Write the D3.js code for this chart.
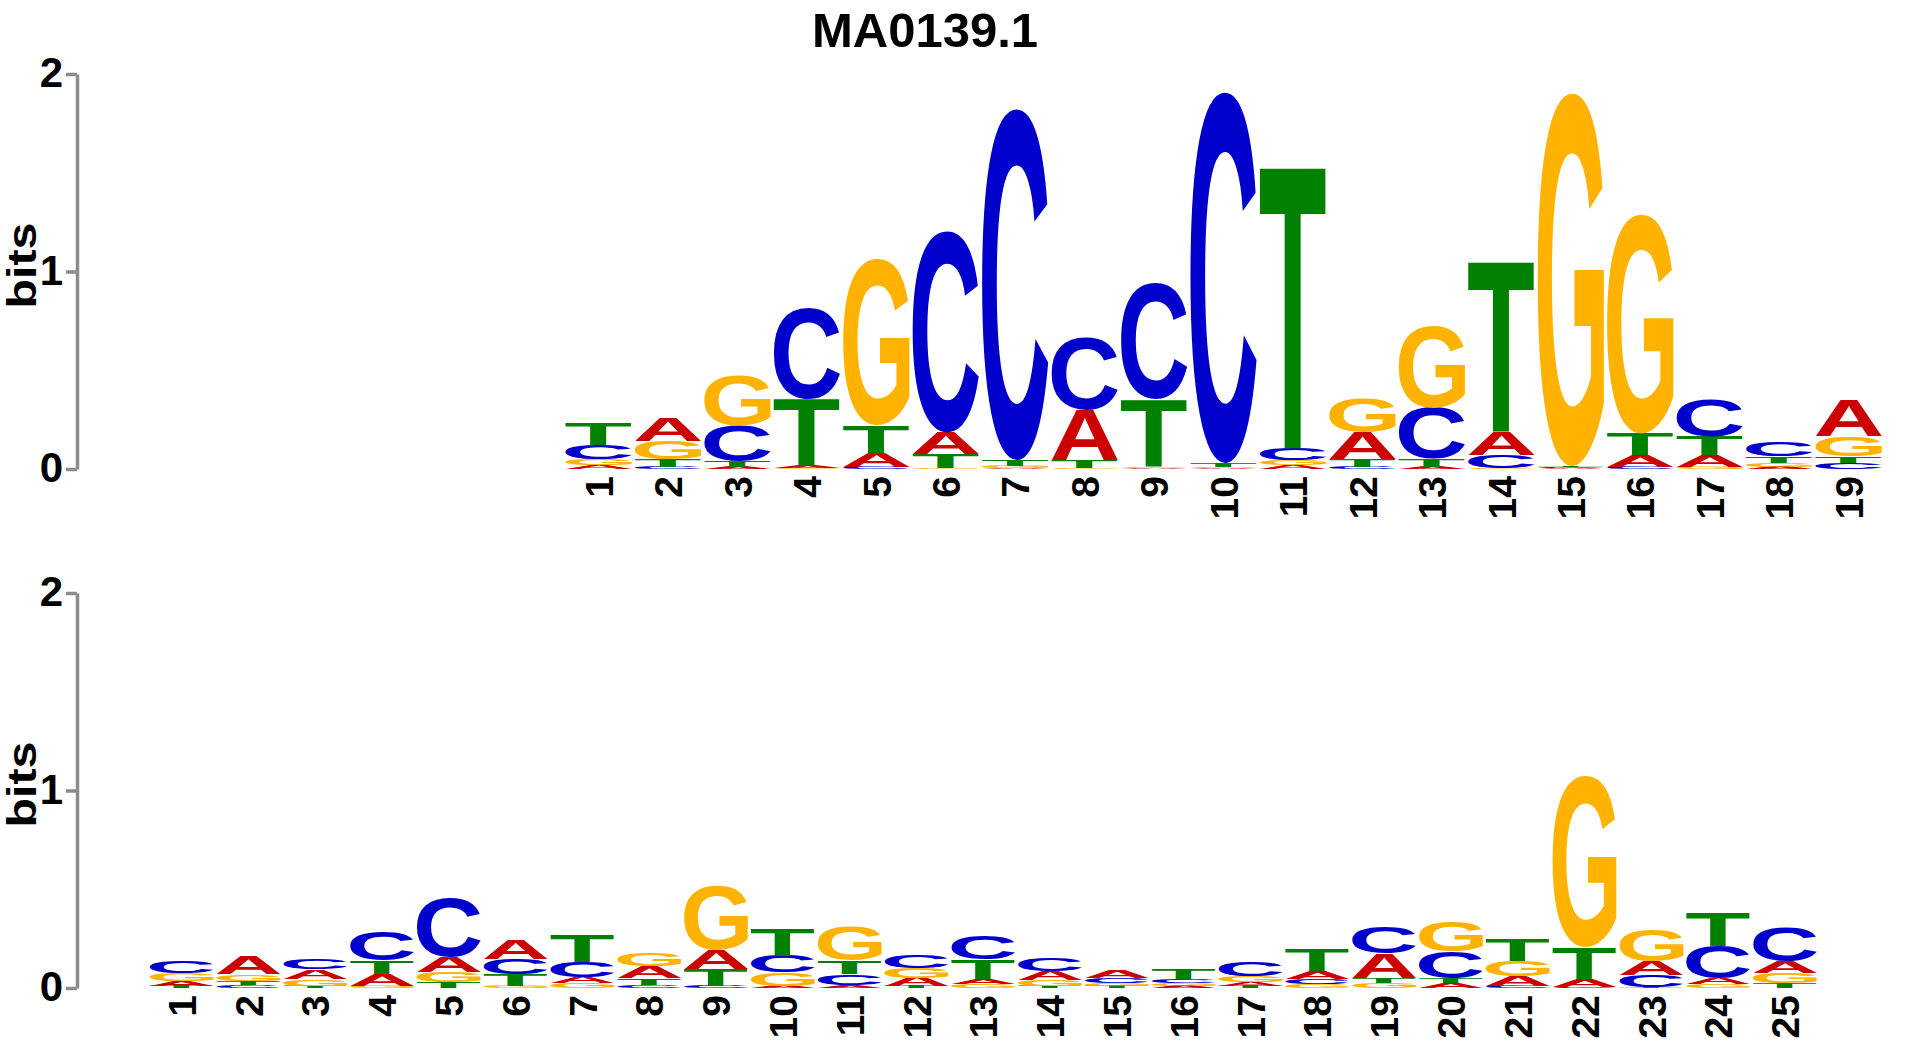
<!DOCTYPE html>
<html>
<head>
<meta charset="utf-8">
<script src="https://cdn.jsdelivr.net/npm/d3@7"></script>
<style>
  body { margin: 0; background: #fff; }
  text { font-family: "Liberation Sans", Arial, sans-serif; font-weight: bold; }
</style>
</head>
<body>
<svg id="chart" width="1909" height="1043"></svg>
<script>
var title = "MA0139.1";
var bases = ["A", "C", "G", "T"];
var baseColor = { A: "#cc0000", C: "#0000cc", G: "#ffb300", T: "#008000" };
var yTicks = [0, 1, 2];

// top logo, 19 positions (bits per base)
var topPos = d3.range(1, 20);
var topA = [0.02, 0.12, 0.01, 0.01, 0.07, 0.11, 0.005, 0.255, 0.005, 0.005, 0.02, 0.135, 0.01, 0.12, 0.005, 0.06, 0.06, 0.01, 0.185];
var topC = [0.07, 0.01, 0.18, 0.46, 0.01, 1.02, 1.78, 0.365, 0.59, 1.88, 0.06, 0.01, 0.26, 0.068, 0.005, 0.01, 0.185, 0.075, 0.03];
var topG = [0.03, 0.09, 0.25, 0.005, 0.84, 0.005, 0.01, 0.005, 0.005, 0.005, 0.025, 0.17, 0.415, 0.005, 1.89, 1.11, 0.01, 0.02, 0.10];
var topT = [0.11, 0.04, 0.03, 0.34, 0.14, 0.07, 0.03, 0.04, 0.345, 0.02, 1.44, 0.04, 0.04, 0.87, 0.005, 0.11, 0.095, 0.035, 0.035];

// bottom logo, 25 positions
var botPos = d3.range(1, 26);
var botA = [0.025, 0.093, 0.048, 0.06, 0.08, 0.10, 0.03, 0.06, 0.10, 0.01, 0.015, 0.042, 0.025, 0.045, 0.04, 0.01, 0.02, 0.04, 0.125, 0.025, 0.05, 0.04, 0.07, 0.03, 0.06];
var botC = [0.06, 0.015, 0.052, 0.144, 0.30, 0.076, 0.076, 0.015, 0.01, 0.085, 0.055, 0.068, 0.12, 0.065, 0.025, 0.02, 0.07, 0.025, 0.13, 0.135, 0.01, 0.005, 0.06, 0.165, 0.17];
var botG = [0.04, 0.035, 0.035, 0.01, 0.05, 0.01, 0.025, 0.068, 0.325, 0.068, 0.17, 0.05, 0.02, 0.03, 0.015, 0.015, 0.03, 0.02, 0.025, 0.15, 0.076, 0.87, 0.16, 0.02, 0.05];
var botT = [0.01, 0.02, 0.01, 0.068, 0.03, 0.06, 0.14, 0.035, 0.085, 0.135, 0.068, 0.01, 0.10, 0.01, 0.01, 0.05, 0.01, 0.11, 0.025, 0.025, 0.11, 0.16, 0.005, 0.17, 0.025];

var svg = d3.select("#chart");

// ink box of each glyph, so a letter can be stretched to fill its cell
var ctx = document.createElement("canvas").getContext("2d");
ctx.font = 'bold 100px "Liberation Sans"';
var ink = {};
bases.forEach(function(b) {
  var m = ctx.measureText(b);
  ink[b] = { l: m.actualBoundingBoxLeft, w: m.actualBoundingBoxLeft + m.actualBoundingBoxRight,
             a: m.actualBoundingBoxAscent, h: m.actualBoundingBoxAscent + m.actualBoundingBoxDescent };
});

svg.append("text")
  .attr("x", 925).attr("y", 47)
  .attr("text-anchor", "middle")
  .style("font-size", "49px")
  .text(title);

function logo(pos, cols, opt) {
  var g = svg.append("g");
  var x = d3.scaleBand()
    .domain(pos)
    .range([opt.x1 - opt.step / 2, opt.x1 + (pos.length - 0.5) * opt.step])
    .paddingInner(0.04);
  var y = d3.scaleLinear().domain([0, 2]).range([opt.y0, opt.y2]);

  var axis = g.append("g")
    .attr("transform", "translate(77,0)")
    .call(d3.axisLeft(y).tickValues(yTicks).tickFormat(d3.format("d"))
      .tickSize(11).tickSizeOuter(0).tickPadding(3));
  axis.select(".domain").attr("stroke", "#8c8c8c").attr("stroke-width", 3.5);
  axis.selectAll(".tick line").attr("stroke", "#8c8c8c").attr("stroke-width", 3.5);
  axis.selectAll(".tick text")
    .attr("fill", "#000")
    .attr("dy", "0.3em")
    .style("font-size", "42px")
    .style("font-family", '"Liberation Sans", Arial, sans-serif')
    .style("font-weight", "bold");

  g.append("text")
    .attr("transform", "translate(36," + (y(1) - 6) + ") rotate(-90)")
    .attr("text-anchor", "middle")
    .attr("textLength", 86)
    .attr("lengthAdjust", "spacingAndGlyphs")
    .style("font-size", "41px")
    .text("bits");

  pos.forEach(function(p, i) {
    var stack = bases.map(function(b) { return { b: b, v: cols[b][i] }; })
      .sort(function(a, c) { return a.v - c.v; });
    var acc = 0;
    stack.forEach(function(s) {
      var yb = y(acc), yt = y(acc + s.v);
      acc += s.v;
      var h = yb - yt;
      if (h < 0.6) return;
      var k = ink[s.b];
      var sx = x.bandwidth() / k.w, sy = h / k.h;
      g.append("text")
        .attr("transform", "translate(" + x(p) + "," + yt + ") scale(" + sx + "," + sy + ") translate(" + k.l + "," + k.a + ")")
        .attr("fill", baseColor[s.b])
        .style("font-size", "100px")
        .text(s.b);
    });
  });

  g.selectAll(".poslabel")
    .data(pos)
    .enter().append("text")
    .attr("class", "poslabel")
    .attr("transform", function(d) { return "translate(" + (x(d) + x.bandwidth() / 2) + "," + opt.ly + ") rotate(-90)"; })
    .attr("text-anchor", "end")
    .attr("dy", "0.36em")
    .style("font-size", "39px")
    .text(function(d) { return d; });
}

logo(topPos, { A: topA, C: topC, G: topG, T: topT }, { x1: 600, step: 69.3, y0: 469, y2: 74, ly: 476 });
logo(botPos, { A: botA, C: botC, G: botG, T: botT }, { x1: 183, step: 66.7, y0: 988, y2: 593, ly: 995 });
</script>
</body>
</html>
